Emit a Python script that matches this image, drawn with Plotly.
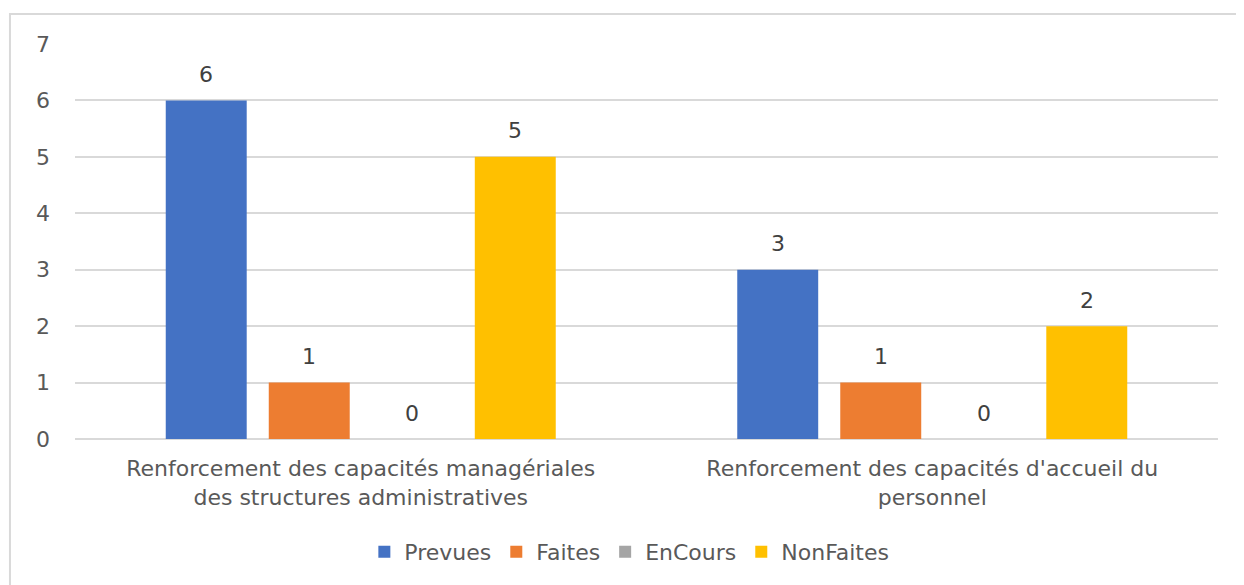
import plotly.graph_objects as go

categories = ["Renforcement des capacités managériales<br>des structures administratives",
              "Renforcement des capacités d'accueil du<br>personnel"]
series_names = ["Prevues", "Faites", "EnCours", "NonFaites"]
prevues = [6, 3]
faites = [1, 1]
encours = [0, 0]
nonfaites = [5, 2]
colors = ["#4472C4", "#ED7D31", "#A5A5A5", "#FFC000"]

values = [prevues, faites, encours, nonfaites]
FONT = "DejaVu Sans"
FS = 22
SLOT_PX = 103  # pixel width of one bar slot inside a group

fig = go.Figure()
annotations = []
for i, (name, vals, col) in enumerate(zip(series_names, values, colors)):
    fig.add_trace(go.Bar(
        x=categories, y=vals, name=name, marker=dict(color=col, line=dict(width=0)),
    ))
    for cat, v in zip(categories, vals):
        annotations.append(dict(
            x=cat, y=v, xref="x", yref="y", text=str(v), showarrow=False,
            xshift=(i - 1.5) * SLOT_PX, yshift=26, yanchor="middle",
            font=dict(family=FONT, size=FS, color="#404040"),
        ))

fig.update_layout(
    width=1244, height=585,
    margin=dict(l=67, r=34, t=36, b=154),
    paper_bgcolor="white", plot_bgcolor="white",
    barmode="group", bargap=0.279, bargroupgap=0.214,
    font=dict(family=FONT, color="#595959", size=FS),
    showlegend=True,
    legend=dict(orientation="h", x=0.485, xanchor="center", y=-0.286, yanchor="middle",
                font=dict(family=FONT, size=FS, color="#595959"),
                traceorder="normal", itemwidth=30),
    xaxis=dict(showgrid=False, showline=False, ticks="", ticklabelstandoff=14,
               tickfont=dict(family=FONT, size=FS, color="#595959")),
    yaxis=dict(range=[0, 7], dtick=1, showgrid=True, gridcolor="#D9D9D9", gridwidth=2,
               zeroline=True, zerolinecolor="#D9D9D9", zerolinewidth=2,
               showline=False, ticks="", ticklabelstandoff=24,
               tickfont=dict(family=FONT, size=FS, color="#595959")),
    annotations=annotations,
    shapes=[dict(type="rect", xref="paper", yref="paper",
                 x0=-0.0569, x1=1.05, y0=-0.6, y1=1.076,
                 line=dict(color="#D9D9D9", width=2), fillcolor="rgba(0,0,0,0)", layer="below")],
)
fig.write_html("out.html")
